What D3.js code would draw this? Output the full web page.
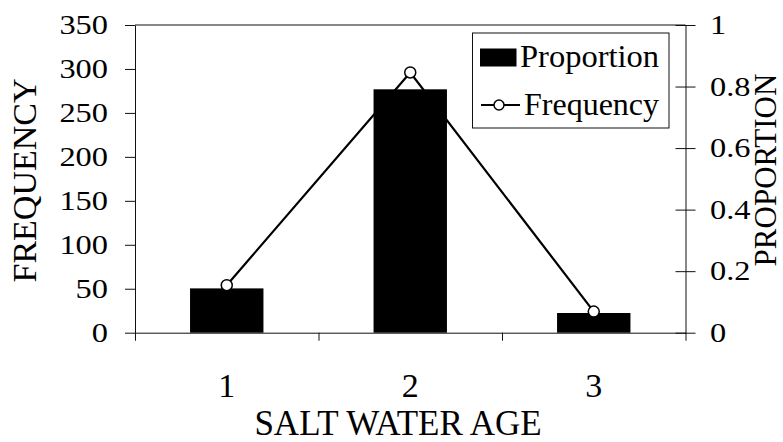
<!DOCTYPE html>
<html>
<head>
<meta charset="utf-8">
<script src="https://cdn.jsdelivr.net/npm/d3@7"></script>
<style>
body { margin: 0; background: #fff; }
svg, svg text { font-family: "Liberation Serif", "Times New Roman", serif; }
svg { display: block; }
.domain, .tick line { stroke: #111; stroke-width: 1; }
</style>
</head>
<body>
<div id="chart"></div>
<script>
// data
const ages = [1, 2, 3];
const proportion = [0.144, 0.791, 0.064];
const frequency = [54, 296, 24];
const freqTicks = [0, 50, 100, 150, 200, 250, 300, 350];
const propTicks = [0, 0.2, 0.4, 0.6, 0.8, 1];

const width = 783,
height = 442,
margin = { top: 25, bottom: 109.3, left: 135, right: 97.5 };

const x0 = margin.left,
x1 = width - margin.right,
yTop = margin.top,
yBot = height - margin.bottom;

const svg = d3.select("#chart")
.append("svg")
.attr("width", width)
.attr("height", height);

const xScale = d3.scaleBand()
.domain(ages)
.range([x0, x1])
.padding(0);

// boundary ticks between the categories
const xEdge = d3.scaleLinear()
.domain([0, ages.length])
.range([x0, x1]);

const yFreq = d3.scaleLinear()
.domain([0, 350])
.range([yBot, yTop]);

const yProp = d3.scaleLinear()
.domain([0, 1])
.range([yBot, yTop]);

// top border of plot area
svg.append("line")
.attr("x1", x0).attr("x2", x1)
.attr("y1", yTop).attr("y2", yTop)
.attr("stroke", "#111");

// bars (proportion, right axis)
const barW = xScale.bandwidth() * 0.4;
svg.selectAll("rect.bar")
.data(ages)
.join("rect")
.attr("class", "bar")
.attr("x", d => xScale(d) + (xScale.bandwidth() - barW) / 2)
.attr("y", (d, i) => yProp(proportion[i]))
.attr("width", barW)
.attr("height", (d, i) => yProp(0) - yProp(proportion[i]))
.attr("fill", "#000");

// x axis: ticks at the edges, labels at band centres
svg.append("g")
.attr("class", "x-axis")
.attr("transform", `translate(0,${yBot})`)
.call(d3.axisBottom(xEdge).tickValues([0, 1, 2, 3]).tickSize(8).tickSizeOuter(0).tickFormat(""));

svg.append("g")
.attr("class", "x-labels")
.attr("transform", `translate(0,${yBot})`)
.call(d3.axisBottom(xScale).tickSize(0).tickPadding(40))
.attr("font-family", null)
.call(g => g.select(".domain").remove())
.selectAll("text")
.attr("font-size", 34)
.attr("fill", "#000");

// left axis (frequency)
const yAxisL = svg.append("g")
.attr("class", "y-axis-left")
.attr("transform", `translate(${x0},0)`)
.call(d3.axisLeft(yFreq).tickValues(freqTicks).tickSize(10).tickSizeOuter(0))
.attr("font-family", null);

yAxisL.selectAll("text")
.attr("font-size", 27)
.attr("fill", "#000")
.attr("x", -27 / 1.2)
.attr("transform", "scale(1.2,1)");

// right axis (proportion), ticks cross the line
const yAxisR = svg.append("g")
.attr("class", "y-axis-right")
.attr("transform", `translate(${x1},0)`)
.call(d3.axisRight(yProp).tickValues(propTicks).tickSize(10).tickSizeOuter(0)
.tickFormat(d => (d === 0 || d === 1) ? String(d) : d.toFixed(1)))
.attr("font-family", null);

yAxisR.selectAll(".tick line").attr("x1", -10).attr("x2", 10);
yAxisR.selectAll("text")
.attr("font-size", 27)
.attr("fill", "#000")
.attr("x", 24.5 / 1.2)
.attr("transform", "scale(1.2,1)");

// frequency line (left axis)
const line = d3.line()
.x((d, i) => xScale(ages[i]) + xScale.bandwidth() / 2)
.y(d => yFreq(d));

svg.append("path")
.datum(frequency)
.attr("d", line)
.attr("fill", "none")
.attr("stroke", "#000")
.attr("stroke-width", 2.2);

svg.selectAll("circle.pt")
.data(frequency)
.join("circle")
.attr("class", "pt")
.attr("cx", (d, i) => xScale(ages[i]) + xScale.bandwidth() / 2)
.attr("cy", d => yFreq(d))
.attr("r", 5.5)
.attr("fill", "#fff")
.attr("stroke", "#000")
.attr("stroke-width", 1.5);

// axis titles
svg.append("text")
.attr("transform", `translate(36,180.5) rotate(-90)`)
.attr("text-anchor", "middle")
.attr("font-size", 34)
.text("FREQUENCY");

svg.append("text")
.attr("transform", `translate(776,170) rotate(-90)`)
.attr("text-anchor", "middle")
.attr("font-size", 31)
.text("PROPORTION");

svg.append("text")
.attr("x", 398)
.attr("y", 435)
.attr("text-anchor", "middle")
.attr("font-size", 35)
.text("SALT WATER AGE");

// legend
const legend = svg.append("g").attr("class", "legend");

legend.append("rect")
.attr("x", 472.5).attr("y", 33)
.attr("width", 196.5).attr("height", 95)
.attr("fill", "#fff")
.attr("stroke", "#111");

legend.append("rect")
.attr("x", 480).attr("y", 48.5)
.attr("width", 36.5).attr("height", 18)
.attr("fill", "#000");

legend.append("text")
.attr("x", 520).attr("y", 66.5)
.attr("font-size", 32.5)
.text("Proportion");

legend.append("line")
.attr("x1", 481).attr("x2", 520)
.attr("y1", 105).attr("y2", 105)
.attr("stroke", "#000")
.attr("stroke-width", 2);

legend.append("circle")
.attr("cx", 499).attr("cy", 105)
.attr("r", 5)
.attr("fill", "#fff")
.attr("stroke", "#000")
.attr("stroke-width", 1.5);

legend.append("text")
.attr("x", 524).attr("y", 115)
.attr("font-size", 32)
.text("Frequency");
</script>
</body>
</html>
